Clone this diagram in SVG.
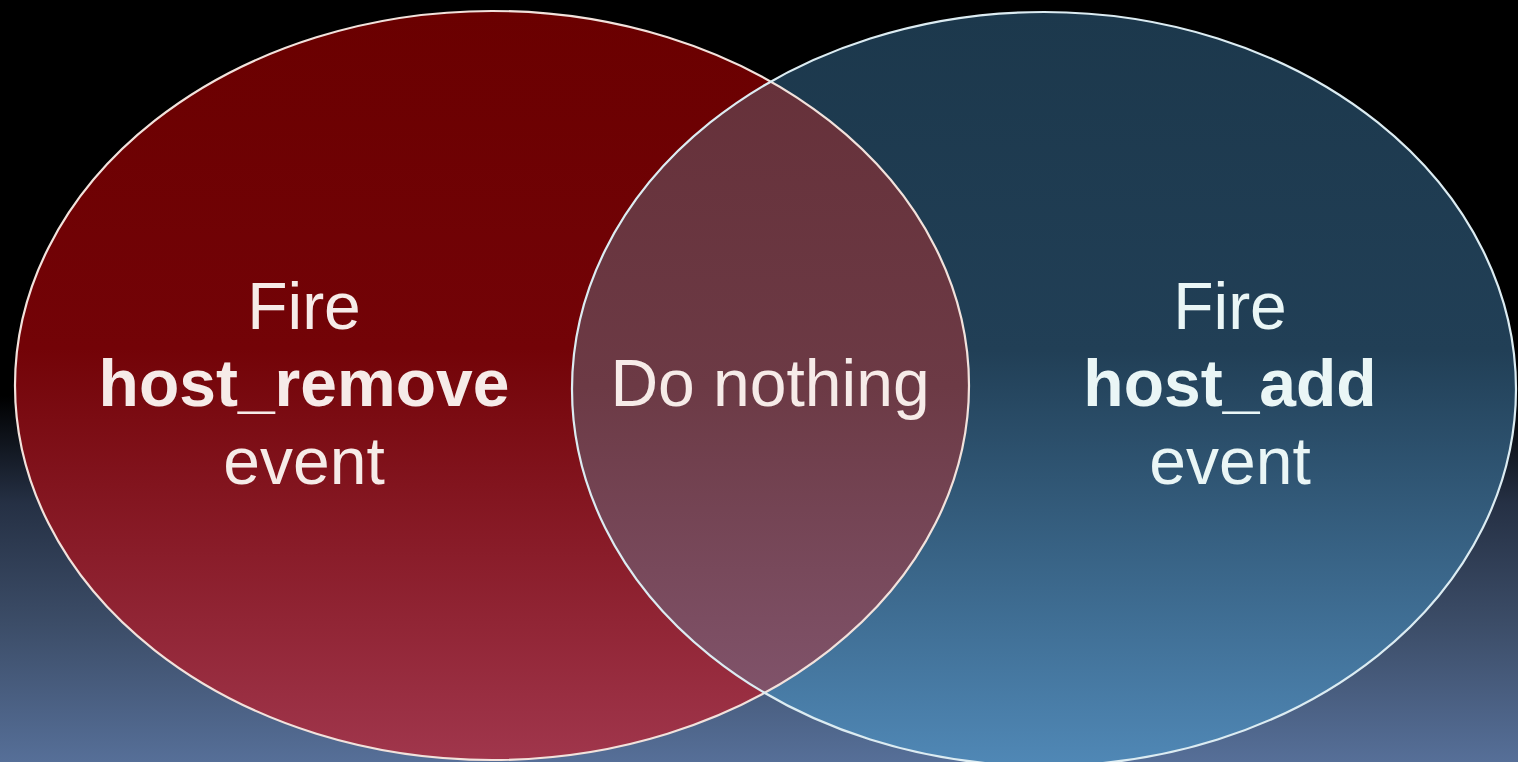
<svg xmlns="http://www.w3.org/2000/svg" width="1518" height="762" viewBox="0 0 1518 762">
  <defs>
    <linearGradient id="bg" gradientUnits="userSpaceOnUse" x1="0" y1="0" x2="0" y2="762">
      <stop offset="0" stop-color="#000000"/>
      <stop offset="0.52" stop-color="#000000"/>
      <stop offset="0.66" stop-color="#253044"/>
      <stop offset="0.82" stop-color="#3c4d68"/>
      <stop offset="1" stop-color="#566f98"/>
    </linearGradient>
    <linearGradient id="redFill" gradientUnits="userSpaceOnUse" x1="0" y1="11" x2="0" y2="760">
      <stop offset="0" stop-color="#6a0000"/>
      <stop offset="0.45" stop-color="#730307"/>
      <stop offset="1" stop-color="#a0364c"/>
    </linearGradient>
    <linearGradient id="blueFill" gradientUnits="userSpaceOnUse" x1="0" y1="10" x2="0" y2="766">
      <stop offset="0" stop-color="#1c384c"/>
      <stop offset="0.45" stop-color="#213f56"/>
      <stop offset="1" stop-color="#5088b6"/>
    </linearGradient>
    <linearGradient id="mixFill" gradientUnits="userSpaceOnUse" x1="0" y1="80" x2="0" y2="693">
      <stop offset="0" stop-color="#66313a"/>
      <stop offset="0.5" stop-color="#6c3a45"/>
      <stop offset="1" stop-color="#80536a"/>
    </linearGradient>
    <clipPath id="leftClip">
      <ellipse cx="492" cy="385.5" rx="477" ry="374.5"/>
    </clipPath>
    <style>
      .outline-red { fill: none; stroke: #f2e2dc; stroke-width: 2.2; }
      .outline-blue { fill: none; stroke: #dcecf2; stroke-width: 2.2; }
      .label { font-family: "Liberation Sans", Arial, sans-serif; font-size: 66px; text-anchor: middle; }
      .bold { font-weight: bold; }
      .warm { fill: #f6ebe8; }
      .cool { fill: #eaf6f6; }
    </style>
  </defs>

  <!-- backdrop: black fading into slate blue -->
  <rect x="0" y="0" width="1518" height="762" fill="url(#bg)"/>

  <!-- left set -->
  <g id="remove-set">
    <ellipse cx="492" cy="385.5" rx="477" ry="374.5" fill="url(#redFill)"/>
  </g>

  <!-- right set -->
  <g id="add-set">
    <ellipse cx="1044" cy="389" rx="472" ry="377" fill="url(#blueFill)"/>
  </g>

  <!-- overlap of both sets -->
  <g id="overlap">
    <ellipse cx="1044" cy="389" rx="472" ry="377" fill="url(#mixFill)" clip-path="url(#leftClip)"/>
  </g>

  <!-- outlines -->
  <g id="outlines">
    <ellipse class="outline-red" cx="492" cy="385.5" rx="477" ry="374.5"/>
    <ellipse class="outline-blue" cx="1044" cy="389" rx="472" ry="377"/>
  </g>

  <!-- labels -->
  <g id="remove-label" class="label warm">
    <text x="304" y="329">Fire</text>
    <text x="304" y="406" class="bold">host_remove</text>
    <text x="304" y="484">event</text>
  </g>
  <g id="overlap-label" class="label warm">
    <text x="770" y="406">Do nothing</text>
  </g>
  <g id="add-label" class="label cool">
    <text x="1230" y="329">Fire</text>
    <text x="1230" y="406" class="bold">host_add</text>
    <text x="1230" y="484">event</text>
  </g>
</svg>
